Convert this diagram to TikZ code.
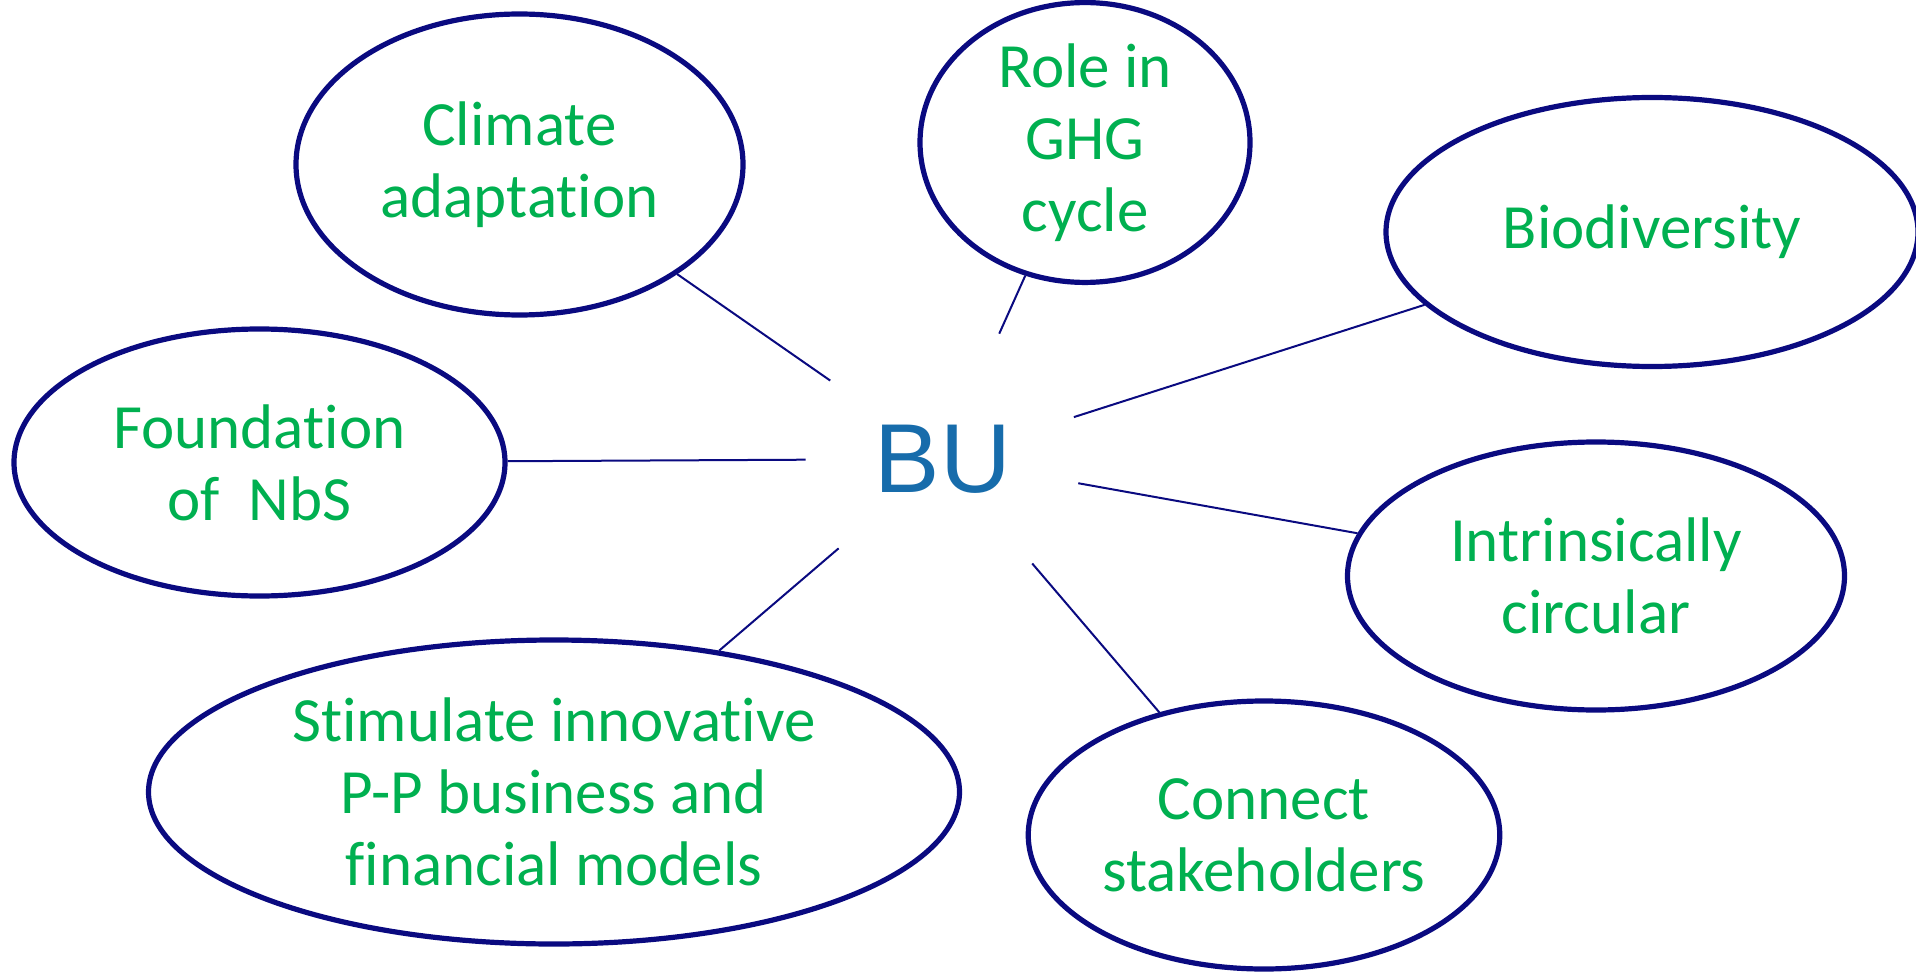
\documentclass[tikz,border=0pt]{standalone}
\usepackage{fontspec}
\setmainfont{Carlito}[Ligatures=NoCommon]
\newfontfamily\arialfont{Liberation Sans}
\usetikzlibrary{shapes.geometric}
\definecolor{topicgreen}{RGB}{0,176,80}
\definecolor{ringnavy}{RGB}{10,10,128}
\definecolor{hubblue}{RGB}{23,108,171}

\begin{document}
\begin{tikzpicture}[x=0.5pt,y=-0.5pt,
    topic/.style={ellipse,draw=ringnavy,line width=2.6pt,inner sep=0pt,align=center,
      text=topicgreen,font=\fontsize{31.5}{36}\selectfont},
    link/.style={draw=ringnavy,line width=1pt}]
  \useasboundingbox (0,0) rectangle (1916,973);
  \clip (0,0) rectangle (1916,973);

  \node at (943,459) [circle,minimum size=137pt,inner sep=0pt,text=hubblue,
    font=\arialfont\fontsize{49}{55}\selectfont] (bu) {BU};

  \node at (519.5,164.5) [topic,minimum width=223.5pt,minimum height=150.5pt] (climate) {Climate\\adaptation};
  \node at (1085,142.5) [topic,minimum width=165pt,minimum height=133.5pt] (ghg) {Role in\\GHG\\cycle};
  \node at (1652,232) [topic,minimum width=266pt,minimum height=134.5pt] (biodiv) {Biodiversity};
  \node at (259.5,462.5) [topic,minimum width=245.5pt,minimum height=133.5pt] (nbs) {Foundation\\of\ \ NbS};
  \node at (1596,576) [topic,minimum width=248.5pt,minimum height=134pt] (circular) {Intrinsically\\circular};
  \node at (554,792) [topic,minimum width=405.5pt,minimum height=152pt] (business) {Stimulate innovative\\P-P business and\\financial models};
  \node at (1264,835) [topic,minimum width=235.75pt,minimum height=134pt] (stakeholders) {Connect\\stakeholders};

  \draw[link] (bu) -- (climate);
  \draw[link] (bu) -- (ghg);
  \draw[link] (bu) -- (biodiv);
  \draw[link] (bu) -- (nbs);
  \draw[link] (bu) -- (circular);
  \draw[link] (bu) -- (business);
  \draw[link] (bu) -- (stakeholders);
\end{tikzpicture}
\end{document}
